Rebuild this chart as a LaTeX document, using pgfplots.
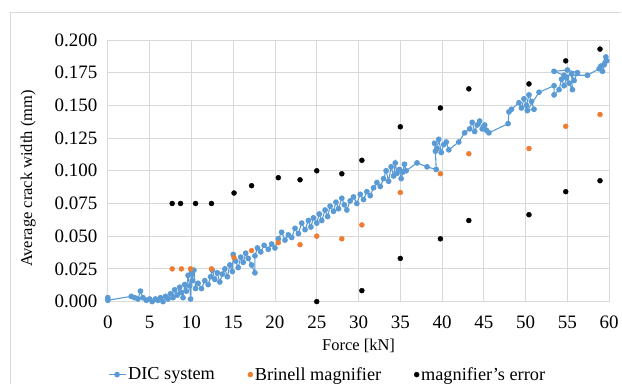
\documentclass[border=0pt]{standalone}
\usepackage{fontspec}
\setmainfont{Liberation Serif}
\usepackage{pgfplots}
\pgfplotsset{compat=1.18}
\definecolor{dicblue}{HTML}{5B9BD5}
\definecolor{brorange}{HTML}{ED7D31}
\definecolor{gridgray}{HTML}{D9D9D9}
\begin{document}
\begin{tikzpicture}
\path (0bp,0bp) rectangle (622bp,385bp);
\draw[gridgray, line width=1bp] (11bp,0bp) -- (11bp,372bp) -- (622bp,372bp);
\begin{axis}[
  at={(108bp,83bp)}, anchor=south west,
  width=502bp, height=262bp, scale only axis,
  xmin=0, xmax=60, ymin=0, ymax=0.2,
  xtick={0,5,...,60},
  ytick={0,0.025,0.05,0.075,0.1,0.125,0.15,0.175,0.2},
  scaled y ticks=false,
  tick label style={font=\fontsize{19bp}{21bp}\selectfont},
  yticklabel style={/pgf/number format/.cd, fixed, fixed zerofill, precision=3, /tikz/.cd, xshift=-7bp},
  xticklabel style={yshift=-11bp},
  /pgf/number format/assume math mode=true,
  grid=major,
  major grid style={gridgray, line width=0.8bp},
  axis line style={draw=none},
  major tick length=0pt,
  clip=false,
  xlabel={Force [kN]},
  ylabel={Average crack width (mm)},
  label style={font=\fontsize{16.5bp}{20bp}\selectfont},
  xlabel style={at={(axis description cs:0.5,-0.168)}, anchor=center},
  ylabel style={at={(axis description cs:-0.159,0.47)}, anchor=center},
  legend style={at={(axis description cs:-0.006,-0.279)}, anchor=west, draw=none, fill=none,
    font=\fontsize{18.3bp}{20bp}\selectfont,
    legend columns=3, /tikz/every even column/.append style={column sep=31bp}},
]
\addplot[color=dicblue, line width=1.1bp, mark=*, mark size=2.3bp, mark options={fill=dicblue, draw=dicblue}] coordinates {
(0,0.003)(0,0.001)(2.8,0.004)(3.2,0.003)(3.6,0.002)(3.9,0.008)(4.2,0.003)(4.6,0.001)(5.0,0.002)(5.3,0.000)
(5.7,0.002)(6.0,0.001)(6.3,0.003)(6.6,0.000)(6.9,0.004)(7.2,0.002)(7.5,0.006)(7.8,0.003)(8.0,0.009)(8.3,0.005)
(8.6,0.011)(8.8,0.007)(9.0,0.003)(9.2,0.013)(9.4,0.008)(9.6,0.020)(9.8,0.012)(9.9,0.002)(10.0,0.022)(10.1,0.016)
(10.3,0.024)(10.5,0.010)(10.8,0.014)(11.2,0.010)(11.6,0.016)(12.0,0.013)(12.3,0.019)(12.5,0.024)(12.8,0.017)(13.1,0.022)
(13.4,0.015)(13.7,0.021)(14.0,0.025)(14.3,0.019)(14.6,0.028)(14.9,0.023)(15.0,0.036)(15.3,0.031)(15.6,0.026)(15.9,0.034)
(16.2,0.030)(16.5,0.037)(16.8,0.033)(17.2,0.028)(17.6,0.022)(17.6,0.035)(17.9,0.041)(18.3,0.038)(18.7,0.043)(19.2,0.040)
(19.6,0.044)(20.0,0.041)(20.4,0.048)(20.8,0.053)(21.2,0.047)(21.6,0.051)(22.0,0.049)(22.4,0.056)(22.8,0.052)(23.2,0.060)
(23.6,0.055)(24.0,0.062)(24.3,0.057)(24.6,0.064)(25.0,0.060)(25.3,0.067)(25.6,0.062)(26.0,0.070)(26.3,0.065)(26.6,0.073)
(27.0,0.069)(27.3,0.076)(27.6,0.071)(28.0,0.079)(28.3,0.074)(28.6,0.070)(29.0,0.077)(29.4,0.080)(29.8,0.075)(30.2,0.082)
(30.6,0.078)(31.0,0.084)(31.4,0.081)(31.8,0.087)(32.2,0.091)(32.6,0.088)(33.0,0.094)(33.3,0.100)(33.6,0.092)(33.9,0.103)
(34.2,0.096)(34.4,0.106)(34.6,0.098)(34.9,0.101)(35.1,0.094)(35.3,0.099)(35.5,0.105)(35.7,0.100)(37.0,0.106)(38.2,0.103)
(39.3,0.101)(39.2,0.115)(39.1,0.121)(39.4,0.117)(39.6,0.124)(39.9,0.114)(40.2,0.120)(40.5,0.122)(40.8,0.116)(42.0,0.122)
(42.7,0.129)(43.3,0.132)(43.6,0.137)(43.9,0.130)(44.2,0.135)(44.5,0.138)(44.8,0.132)(45.1,0.135)(45.3,0.131)(45.6,0.129)
(47.9,0.136)(48.0,0.145)(48.3,0.147)(49.2,0.152)(49.5,0.148)(49.8,0.155)(50.1,0.150)(50.4,0.158)(50.7,0.153)(51.0,0.147)
(50.2,0.146)(51.6,0.160)(53.4,0.165)(53.4,0.158)(54.0,0.162)(54.3,0.170)(54.6,0.165)(54.9,0.171)(55.2,0.167)(55.6,0.162)
(55.5,0.174)(55.8,0.169)(56.2,0.175)(55.0,0.177)(53.4,0.176)(54.6,0.173)(57.4,0.173)(58.8,0.178)(59.2,0.176)(59.4,0.181)
(59.7,0.184)(59.6,0.187)(59.0,0.180)
};
\addlegendentry{DIC system}
\addplot[only marks, mark=*, mark size=2.5bp, color=brorange, mark options={fill=brorange, draw=brorange}] coordinates {
(7.7,0.025)(8.8,0.025)(9.9,0.025)(12.4,0.025)(15.1,0.0336)(17.2,0.039)(20.4,0.045)(23.0,0.0435)(25.0,0.050)
(28.0,0.048)(30.4,0.0586)(35.0,0.0834)(39.8,0.0977)(43.2,0.113)(50.4,0.117)(54.8,0.134)(58.9,0.143)
};
\addlegendentry{Brinell magnifier}
\addplot[only marks, mark=*, mark size=2.5bp, color=black] coordinates {
(7.7,0.075)(8.7,0.075)(10.5,0.075)(12.4,0.075)(15.1,0.083)(17.2,0.0886)(20.4,0.0947)(23.0,0.0931)(25.0,0.100)
(28.0,0.0977)(30.4,0.108)(35.0,0.1336)(39.8,0.148)(43.2,0.1626)(50.4,0.1664)(54.8,0.184)(58.9,0.193)
(25.0,0.000)(30.4,0.0084)(35.0,0.033)(39.8,0.048)(43.2,0.062)(50.4,0.0664)(54.8,0.084)(58.9,0.0924)
};
\addlegendentry{magnifier’s error}
\end{axis}
\end{tikzpicture}
\end{document}
